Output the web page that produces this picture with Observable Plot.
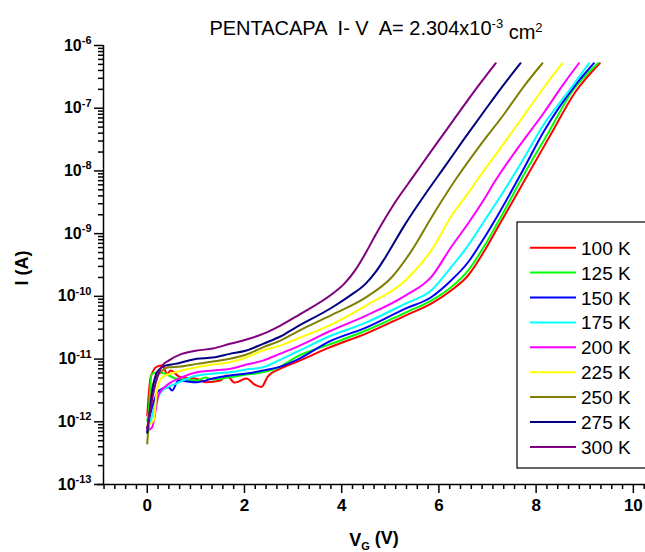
<!DOCTYPE html>
<html><head><meta charset="utf-8">
<script src="https://cdn.jsdelivr.net/npm/d3@7"></script>
<script src="https://cdn.jsdelivr.net/npm/@observablehq/plot@0.6"></script>
<style>
body{margin:0;background:#fff;}
#chart{width:645px;height:552px;overflow:hidden;}
</style></head><body><div id="chart"></div>
<script>
const temps = ["100 K","125 K","150 K","175 K","200 K","225 K","250 K","275 K","300 K"];
const colors = ["#ff0000","#00ff00","#0000ff","#00ffff","#ff00ff","#ffff00","#808000","#000080","#800080"];
const xTicks = [0, 2, 4, 6, 8, 10];
const yExponents = [-13, -12, -11, -10, -9, -8, -7, -6];

const vg100 = [0.00,0.07,0.20,0.31,0.41,0.48,0.68,1.02,1.22,1.50,1.63,1.80,2.04,2.21,2.35,2.48,2.74,3.09,3.74,4.50,5.31,5.84,6.25,6.60,6.94,7.21,7.82,8.30,8.80,9.31];
const i100 = [1.26e-12,5.13e-12,7.59e-12,7.87e-12,5.81e-12,6.56e-12,5.13e-12,4.83e-12,4.27e-12,4.54e-12,5.46e-12,4.22e-12,4.89e-12,3.92e-12,3.60e-12,5.26e-12,7.05e-12,9.12e-12,1.52e-11,2.55e-11,4.94e-11,7.67e-11,1.24e-10,2.15e-10,5.37e-10,1.25e-9,8.45e-9,3.80e-8,1.78e-7,5.22e-7];
const vg125 = [0.00,0.03,0.09,0.23,0.37,0.58,1.02,1.19,1.35,1.70,2.04,2.38,2.74,3.09,3.74,4.50,5.31,5.84,6.25,6.60,6.94,7.21,7.76,8.25,8.74,9.27];
const i125 = [1.04e-12,1.51e-12,5.81e-12,6.09e-12,5.81e-12,4.89e-12,4.54e-12,5.07e-12,4.71e-12,5.13e-12,5.66e-12,6.15e-12,7.59e-12,1.10e-11,1.70e-11,2.85e-11,5.52e-11,8.57e-11,1.40e-10,2.58e-10,6.46e-10,1.50e-9,9.10e-9,4.07e-8,1.85e-7,5.22e-7];
const vg150 = [0.00,0.10,0.24,0.44,0.51,0.64,1.02,1.35,1.70,2.04,2.38,2.74,3.09,3.74,4.50,5.31,5.84,6.25,6.60,6.94,7.21,7.70,8.17,8.80,9.19];
const i150 = [8.07e-13,1.70e-12,3.15e-12,3.55e-12,3.15e-12,4.54e-12,4.27e-12,4.89e-12,5.46e-12,5.87e-12,6.56e-12,7.59e-12,9.82e-12,1.90e-11,3.18e-11,6.38e-11,9.68e-11,1.79e-10,3.50e-10,8.77e-10,1.95e-9,9.33e-9,4.41e-8,2.30e-7,5.22e-7];
const vg175 = [0.00,0.07,0.17,0.31,0.58,1.02,1.35,1.70,2.04,2.38,2.74,3.09,3.74,4.50,5.31,5.84,6.25,6.60,6.94,7.21,7.70,8.17,8.68,9.09];
const i175 = [6.73e-13,1.04e-12,1.93e-12,3.15e-12,4.02e-12,5.46e-12,5.87e-12,6.15e-12,6.81e-12,7.40e-12,9.82e-12,1.32e-11,2.29e-11,3.82e-11,7.67e-11,1.24e-10,2.91e-10,6.46e-10,1.62e-9,3.37e-9,1.38e-8,5.70e-8,1.91e-7,5.22e-7];
const vg200 = [0.00,0.10,0.24,0.44,0.71,1.02,1.35,1.70,2.04,2.38,2.74,3.09,3.74,4.50,5.31,5.84,6.25,6.60,6.94,7.15,7.60,8.17,8.54,8.88];
const i200 = [7.24e-13,8.17e-13,2.79e-12,4.02e-12,5.13e-12,6.15e-12,6.56e-12,6.98e-12,8.17e-12,9.46e-12,1.22e-11,1.58e-11,2.75e-11,4.94e-11,1.03e-10,2.02e-10,6.07e-10,1.45e-9,3.63e-9,6.76e-9,2.19e-8,8.71e-8,2.29e-7,5.22e-7];
const vg225 = [0.00,0.13,0.20,0.31,0.58,1.02,1.35,1.70,2.04,2.38,2.74,3.09,3.74,4.50,5.31,5.84,6.29,6.64,6.78,7.30,7.82,8.19,8.54];
const i225 = [8.69e-13,1.04e-12,3.15e-12,5.13e-12,6.15e-12,7.40e-12,8.17e-12,8.89e-12,1.06e-11,1.37e-11,1.64e-11,2.12e-11,3.42e-11,7.13e-11,1.79e-10,5.37e-10,2.09e-9,4.86e-9,7.03e-9,2.51e-8,9.18e-8,2.30e-7,5.22e-7];
const vg250 = [0.00,0.11,0.27,0.44,0.68,1.02,1.35,1.70,2.04,2.38,2.74,3.09,3.81,4.49,5.03,5.44,5.85,6.33,6.84,7.35,7.76,8.13];
const i250 = [4.49e-13,3.78e-12,6.09e-12,7.40e-12,7.59e-12,8.38e-12,9.12e-12,1.01e-11,1.18e-11,1.54e-11,1.97e-11,2.75e-11,5.13e-11,9.57e-11,2.02e-10,5.37e-10,1.83e-9,7.03e-9,2.51e-8,8.23e-8,2.30e-7,5.22e-7];
const vg275 = [0.00,0.13,0.20,0.37,0.58,1.02,1.35,1.70,2.04,2.38,2.74,3.06,3.81,4.15,4.49,4.70,4.90,5.31,5.71,6.12,6.52,6.92,7.30,7.68];
const i275 = [6.73e-13,4.02e-12,6.15e-12,7.87e-12,8.38e-12,1.01e-11,1.06e-11,1.21e-11,1.37e-11,1.75e-11,2.29e-11,3.21e-11,6.70e-11,1.00e-10,1.58e-10,2.45e-10,4.21e-10,1.43e-9,4.17e-9,1.17e-8,3.24e-8,8.71e-8,2.19e-7,5.22e-7];
const vg300 = [0.00,0.17,0.31,0.44,0.71,1.02,1.35,1.70,2.04,2.38,2.74,3.13,3.81,4.05,4.29,4.50,4.69,5.10,5.50,5.90,6.30,6.70,7.17];
const i300 = [7.8e-13,4.06e-12,7.87e-12,9.46e-12,1.21e-11,1.37e-11,1.47e-11,1.75e-11,2.05e-11,2.52e-11,3.42e-11,5.13e-11,1.10e-10,1.58e-10,2.69e-10,5.01e-10,9.33e-10,3.16e-9,8.71e-9,2.40e-8,6.46e-8,1.74e-7,5.22e-7];

const vgs = [vg100, vg125, vg150, vg175, vg200, vg225, vg250, vg275, vg300];
const is = [i100, i125, i150, i175, i200, i225, i250, i275, i300];

const rows = [];
temps.forEach((t, k) => vgs[k].forEach((v, j) => rows.push({t, v, i: is[k][j]})));

const yMajor = yExponents.map(e => Math.pow(10, e));
const yMinor = [];
yExponents.slice(0, -1).forEach(e => { for (let m = 2; m <= 9; m++) yMinor.push(m * Math.pow(10, e)); });
const xMinor = d3.range(-4, 47).filter(k => k % 9 !== 0).map(k => 2 * k / 9);

const font = "'Liberation Sans', Arial, sans-serif";

const svg = Plot.plot({
  width: 645, height: 552,
  marginLeft: 103, marginRight: 0, marginTop: 45, marginBottom: 68,
  style: {fontFamily: font, background: "white", color: "black"},
  x: {domain: [-0.9, 10.25]},
  y: {type: "log", domain: [1e-13, 1e-6]},
  color: {domain: temps, range: colors},
  marks: [
    Plot.axisX({ticks: xMinor, tickSize: 5, tickFormat: () => "", strokeWidth: 1.5, label: null}),
    Plot.axisX({ticks: xTicks, tickSize: 9, tickPadding: 5, fontSize: 17, fontWeight: "bold", strokeWidth: 1.5, label: null, tickFormat: d => String(d)}),
    Plot.axisY({ticks: yMinor, tickSize: 5, tickFormat: () => "", strokeWidth: 1.5, label: null}),
    Plot.axisY({ticks: yMajor, tickSize: 9, tickPadding: 3, fontSize: 16, fontWeight: "bold", strokeWidth: 1.5, label: null,
      tickFormat: d => "10^" + Math.round(Math.log10(d))}),
    Plot.ruleY([1e-13], {strokeWidth: 1.5, insetLeft: -6}),
    Plot.ruleX([-0.9], {strokeWidth: 1.5}),
    Plot.line(rows, {x: "v", y: "i", z: "t", stroke: "t", strokeWidth: 2, curve: "monotone-x"})
  ]
});

const s = d3.select(svg);
s.selectAll("text").each(function() {
  const txt = this.textContent;
  if (txt.startsWith("10^")) {
    const ex = txt.slice(3);
    const el = d3.select(this);
    el.text("10").attr("font-weight", "bold");
    el.append("tspan").attr("dy", "-0.6em").attr("font-size", "11px").attr("font-weight", "bold").text(ex);
  }
});

// Title
const title = s.append("text").attr("x", 376).attr("y", 35).attr("text-anchor", "middle")
  .attr("font-family", font).attr("font-size", 20).style("white-space", "pre");
title.append("tspan").text("PENTACAPA  I- V  A= 2.304x10");
title.append("tspan").attr("dy", "-0.55em").attr("font-size", 13).text("-3");
title.append("tspan").attr("dy", "0.55em").text(" cm");
title.append("tspan").attr("dy", "-0.55em").attr("font-size", 13).text("2");

// x label
const xl = s.append("text").attr("x", 374).attr("y", 546).attr("text-anchor", "middle")
  .attr("font-family", font).attr("font-size", 18).attr("font-weight", "bold").style("white-space", "pre");
xl.append("tspan").text("V");
xl.append("tspan").attr("dy", "0.35em").attr("font-size", 11).text("G");
xl.append("tspan").attr("dy", "-0.35em").text(" (V)");

// y label
s.append("text").attr("transform", "translate(28,268) rotate(-90)").attr("text-anchor", "middle")
  .attr("font-family", font).attr("font-size", 18).attr("font-weight", "bold").text("I (A)");

// Legend
const lg = s.append("g").attr("text-anchor", "start");
lg.append("rect").attr("x", 517).attr("y", 222).attr("width", 200).attr("height", 246)
  .attr("fill", "white").attr("stroke", "black").attr("stroke-width", 1.2);
temps.forEach((t, k) => {
  const y = 247.7 + 24.9 * k;
  lg.append("line").attr("x1", 530).attr("x2", 576).attr("y1", y).attr("y2", y)
    .attr("stroke", colors[k]).attr("stroke-width", 2);
  lg.append("text").attr("x", 581).attr("y", y + 7).attr("text-anchor", "start")
    .attr("font-family", font).attr("font-size", 19).text(t);
});

document.getElementById("chart").appendChild(svg);
</script>
</body></html>
